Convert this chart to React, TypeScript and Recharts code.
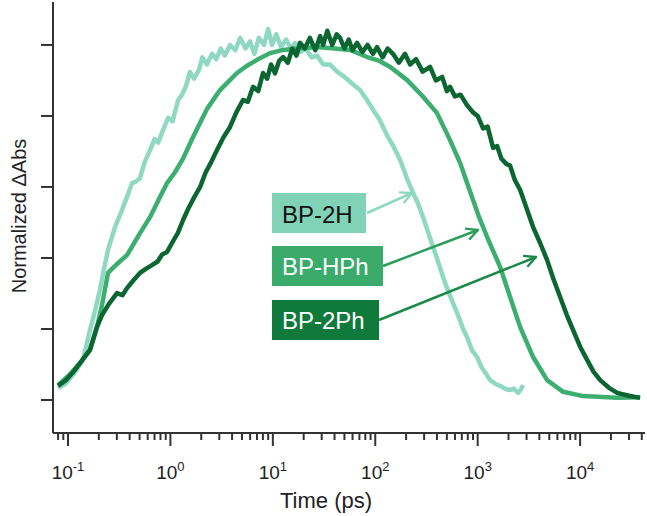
import { Line, LineChart, XAxis, YAxis } from "recharts";

// BP-2H (light)
const lightT = [
  0.08, 0.094, 0.115, 0.14, 0.164, 0.185, 0.205, 0.225, 0.246, 0.29, 0.337, 0.38, 0.422, 0.46, 0.505,
  0.56, 0.632, 0.7, 0.76, 0.847, 0.95, 1.05, 1.19, 1.3, 1.42, 1.55, 1.7, 1.9, 2.05, 2.27, 2.55, 2.8,
  3.1, 3.4, 3.82, 4.3, 4.8, 5.4, 5.99, 6.6, 7.3, 8.2, 9.0, 9.82, 10.8, 12, 13.5, 15, 16.5, 18.4, 21,
  24, 27, 31, 36, 42.4, 50, 60, 71.1, 83, 95.3, 110, 130, 150, 175, 200, 234, 260, 293, 330, 367,
  410, 459, 510, 575, 650, 720, 788, 880, 986, 1100, 1200, 1321, 1500, 1700, 1900, 2072, 2250, 2481,
  2650, 2776,
];
const lightV = [
  0.034, 0.045, 0.075, 0.113, 0.197, 0.255, 0.31, 0.37, 0.423, 0.49, 0.535, 0.575, 0.611, 0.615,
  0.625, 0.67, 0.704, 0.735, 0.725, 0.76, 0.795, 0.785, 0.845, 0.86, 0.885, 0.924, 0.905, 0.93,
  0.965, 0.945, 0.975, 0.96, 0.99, 0.97, 1.0, 0.985, 1.02, 0.99, 1.01, 0.975, 1.02, 1.0, 1.045, 1.0,
  1.03, 0.995, 1.015, 0.99, 1.005, 0.98, 0.99, 0.965, 0.97, 0.945, 0.945, 0.925, 0.91, 0.89, 0.873,
  0.845, 0.817, 0.79, 0.746, 0.715, 0.676, 0.63, 0.583, 0.555, 0.515, 0.47, 0.431, 0.39, 0.346,
  0.31, 0.273, 0.235, 0.2, 0.177, 0.14, 0.121, 0.09, 0.075, 0.056, 0.045, 0.038, 0.03, 0.028, 0.032,
  0.02, 0.03, 0.042,
];

// BP-HPh (medium)
const medT = [
  0.08, 0.105, 0.131, 0.164, 0.192, 0.215, 0.246, 0.27, 0.301, 0.377, 0.505, 0.632, 0.791, 0.927,
  1.1, 1.33, 1.66, 2.28, 3.05, 4.47, 5.5, 7.01, 9.39, 12.6, 18, 27, 40, 56.7, 83.2, 110, 140, 205,
  293, 401, 537, 673, 788, 1032, 1236, 1655, 2072, 2594, 3475, 4763, 6826, 10700, 23000, 38500,
];
const medV = [
  0.042, 0.073, 0.104, 0.141, 0.206, 0.268, 0.358, 0.37, 0.383, 0.408, 0.47, 0.515, 0.572, 0.611,
  0.64, 0.68, 0.74, 0.82, 0.873, 0.921, 0.94, 0.958, 0.977, 0.986, 0.99, 0.994, 0.99, 0.986, 0.966,
  0.955, 0.938, 0.901, 0.854, 0.808, 0.732, 0.668, 0.611, 0.515, 0.459, 0.375, 0.29, 0.206, 0.121,
  0.056, 0.023, 0.011, 0.006, 0.008,
];

// BP-2Ph (dark)
const darkT = [
  0.08, 0.095, 0.115, 0.131, 0.164, 0.192, 0.215, 0.25, 0.301, 0.34, 0.377, 0.43, 0.505, 0.58, 0.661,
  0.75, 0.83, 0.927, 1.05, 1.18, 1.33, 1.5, 1.7, 1.95, 2.2, 2.5, 2.85, 3.3, 3.82, 4.4, 5.11, 5.7,
  6.41, 7.2, 8.02, 8.8, 9.6, 10.5, 11.5, 12.6, 14, 15.5, 17, 18.4, 20.5, 23, 26, 29, 31, 34, 38, 42,
  45.3, 50, 55, 60, 66.4, 75, 84, 95, 104, 118, 132, 149, 170, 195, 219, 250, 290, 343, 390, 450,
  500, 537, 600, 680, 788, 900, 1000, 1129, 1250, 1413, 1550, 1700, 1900, 2072, 2300, 2594, 3000,
  3475, 4100, 4763, 5500, 6380, 7400, 8546, 10000, 11700, 13500, 15700, 19000, 23000, 30000, 38500,
];
const darkV = [
  0.04, 0.055, 0.082, 0.104, 0.141, 0.206, 0.239, 0.27, 0.301, 0.295, 0.315, 0.335, 0.358, 0.37,
  0.38, 0.39, 0.41, 0.417, 0.445, 0.47, 0.507, 0.54, 0.57, 0.6, 0.64, 0.67, 0.704, 0.74, 0.769, 0.81,
  0.845, 0.84, 0.882, 0.87, 0.921, 0.905, 0.945, 0.92, 0.955, 0.966, 0.95, 0.99, 0.97, 1.006, 0.99,
  1.02, 0.985, 1.025, 1.0, 1.04, 1.0, 1.03, 1.02, 0.99, 1.015, 0.985, 1.006, 0.98, 1.0, 0.975, 0.994,
  0.965, 0.99, 0.975, 0.95, 0.975, 0.945, 0.96, 0.925, 0.938, 0.9, 0.91, 0.87, 0.882, 0.855, 0.86,
  0.83, 0.81, 0.8, 0.765, 0.77, 0.71, 0.715, 0.68, 0.665, 0.66, 0.62, 0.592, 0.54, 0.487, 0.44,
  0.394, 0.34, 0.29, 0.24, 0.197, 0.15, 0.113, 0.08, 0.056, 0.035, 0.02, 0.012, 0.006,
];

const xTicks = [
  0.08, 0.09, 0.1, 0.2, 0.3, 0.4, 0.5, 0.6, 0.7, 0.8, 0.9, 1, 2, 3, 4, 5, 6, 7, 8, 9, 10, 20, 30, 40,
  50, 60, 70, 80, 90, 100, 200, 300, 400, 500, 600, 700, 800, 900, 1000, 2000, 3000, 4000, 5000,
  6000, 7000, 8000, 9000, 10000, 20000, 30000, 40000,
];
const yTicks = [0, 0.2, 0.4, 0.6, 0.8, 1];

const lightData = lightT.map((t, i) => ({ t, v: lightV[i] }));
const medData = medT.map((t, i) => ({ t, v: medV[i] }));
const darkData = darkT.map((t, i) => ({ t, v: darkV[i] }));

const FONT = "'Liberation Sans', Arial, sans-serif";
const AXIS = "#333";
const C_LIGHT = "#8fd8c1";
const C_MED = "#3cae70";
const C_DARK = "#0b6631";

function XTick(props: any) {
  const { x, y, payload } = props;
  const v = payload.value;
  const exp = Math.log10(v);
  const major = Math.abs(exp - Math.round(exp)) < 1e-6;
  return (
    <g>
      <line x1={x} x2={x} y1={y} y2={y + (major ? 13 : 7)} stroke={AXIS} strokeWidth={2} />
      {major && (
        <text x={x} y={y + 46} textAnchor="middle" fontSize={19} fill="#222" fontFamily={FONT}>
          <tspan>10</tspan>
          <tspan dy={-8} fontSize={13}>
            {String(Math.round(exp))}
          </tspan>
        </text>
      )}
    </g>
  );
}

function YTick(props: any) {
  const { x, y } = props;
  return <line x1={x - 12} x2={x} y1={y} y2={y} stroke={AXIS} strokeWidth={2} />;
}

export default function App() {
  return (
    <div style={{ position: "absolute", left: 0, top: 0, width: 647, height: 516 }}>
      <LineChart width={647} height={516} margin={{ top: 2, right: 2, left: 40, bottom: 0 }}>
        <XAxis
          dataKey="t"
          type="number"
          scale="log"
          domain={[0.0714, 43000]}
          allowDataOverflow
          ticks={xTicks}
          interval={0}
          tickSize={0}
          tickMargin={0}
          tick={<XTick />}
          height={83}
          axisLine={{ stroke: AXIS, strokeWidth: 2 }}
          label={() => (
            <text x={326} y={508} textAnchor="middle" fontSize={22} fill="#222" fontFamily={FONT}>
              Time (ps)
            </text>
          )}
        />
        <XAxis
          xAxisId="top"
          orientation="top"
          type="number"
          domain={[0, 1]}
          height={0}
          tick={false}
          tickLine={false}
          axisLine={{ stroke: AXIS, strokeWidth: 2 }}
        />
        <YAxis
          type="number"
          domain={[-0.093, 1.121]}
          allowDataOverflow
          ticks={yTicks}
          tickSize={0}
          tickMargin={0}
          tick={<YTick />}
          width={13}
          axisLine={{ stroke: AXIS, strokeWidth: 2 }}
          label={() => (
            <text
              x={26}
              y={216}
              transform="rotate(-90 26 216)"
              textAnchor="middle"
              fontSize={20}
              fill="#222"
              fontFamily={FONT}
            >
              Normalized ΔAbs
            </text>
          )}
        />
        <YAxis
          yAxisId="r"
          orientation="right"
          type="number"
          domain={[0, 1]}
          width={0}
          tick={false}
          tickLine={false}
          axisLine={{ stroke: AXIS, strokeWidth: 2 }}
        />
        <Line data={lightData} dataKey="v" stroke={C_LIGHT} strokeWidth={4.5} dot={false} isAnimationActive={false} strokeLinejoin="round" />
        <Line data={medData} dataKey="v" stroke={C_MED} strokeWidth={4.5} dot={false} isAnimationActive={false} strokeLinejoin="round" />
        <Line data={darkData} dataKey="v" stroke={C_DARK} strokeWidth={4.5} dot={false} isAnimationActive={false} strokeLinejoin="round" />
      </LineChart>
      <svg
        width={647}
        height={516}
        style={{ position: "absolute", left: 0, top: 0, pointerEvents: "none" }}
      >
        <defs>
          {[
            ["a1", "#8ed8c0"],
            ["a2", "#2c9e5c"],
            ["a3", "#1b8a48"],
          ].map(([id, c]) => (
            <marker
              key={id}
              id={id}
              viewBox="0 0 12 12"
              refX={11}
              refY={6}
              markerWidth={14}
              markerHeight={14}
              markerUnits="userSpaceOnUse"
              orient="auto"
            >
              <path d="M1,1 L11,6 L1,11" fill="none" stroke={c} strokeWidth={2} />
            </marker>
          ))}
        </defs>
        <line x1={367} y1={213} x2={412} y2={193} stroke="#8ed8c0" strokeWidth={2.5} markerEnd="url(#a1)" />
        <line x1={383} y1={266} x2={478} y2={230} stroke="#2c9e5c" strokeWidth={2.5} markerEnd="url(#a2)" />
        <line x1={379} y1={320} x2={536} y2={257} stroke="#1b8a48" strokeWidth={2.5} markerEnd="url(#a3)" />
        <rect x={272} y={193} width={94} height={40} fill="#80d3b7" />
        <text x={282} y={223} fontSize={24} fill="#111" fontFamily={FONT}>BP-2H</text>
        <rect x={272} y={246} width={111} height={40} fill="#3aab6a" />
        <text x={282} y={275} fontSize={24} fill="#fff" fontFamily={FONT}>BP-HPh</text>
        <rect x={272} y={300} width={107} height={40} fill="#0f7a3c" />
        <text x={282} y={329} fontSize={24} fill="#fff" fontFamily={FONT}>BP-2Ph</text>
      </svg>
    </div>
  );
}
